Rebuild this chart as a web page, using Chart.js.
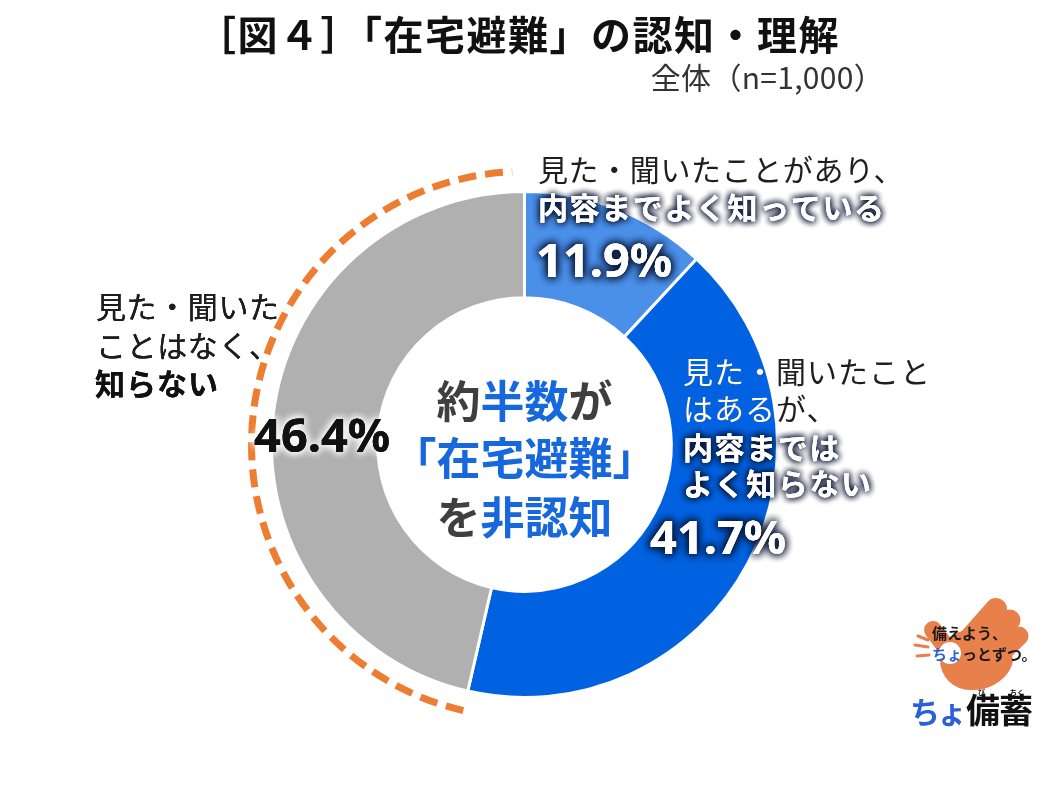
<!DOCTYPE html>
<html><head><meta charset="utf-8">
<script src="https://cdn.jsdelivr.net/npm/chart.js@4.4.0/dist/chart.umd.min.js"></script>
<style>html,body{margin:0;padding:0;background:#fff;} #wrap{width:1049px;height:796px;position:relative;}</style>
</head><body><div id="wrap"><canvas id="c"></canvas></div>
<script>
const categories = ['見た・聞いたことがあり、内容までよく知っている', '見た・聞いたことはあるが、内容まではよく知らない', '見た・聞いたことはなく、知らない'];
const values = [11.9, 41.7, 46.4];
const colors = ['#4A8FE8', '#0062E0', '#B0B0B0'];
const titleText = '［図４］「在宅避難」の認知・理解';
const subtitleText = '全体（n=1,000）';
const labelNormal = [['見た・聞いたことがあり、'], ['見た・聞いたこと', 'はあるが、'], ['見た・聞いた', 'ことはなく、']];
const labelBold = [['内容までよく知っている'], ['内容までは', 'よく知らない'], ['知らない']];
const centerLines = [
  [['約', 'dark'], ['半数', 'blue'], ['が', 'dark']],
  [['「在宅避難」', 'blue']],
  [['を', 'dark'], ['非認知', 'blue']]
];
const logoLine1 = '備えよう、';
const logoLine2a = 'ちょ';
const logoLine2b = 'っとずつ。';
const logoName1 = 'ちょ';
const logoName2 = '備蓄';

const JP = '"Noto Sans CJK JP", "Noto Sans", sans-serif';
const NUM = '"Noto Sans", "Noto Sans CJK JP", sans-serif';
const ORANGE = '#ED7D31';
const CBLUE = '#1768DC';
const CDARK = '#3F3F3F';

function txt(ctx, s, x, y, font, fill, glow, blur, passes, ls) {
  ctx.save();
  ctx.font = font;
  ctx.letterSpacing = (ls || 0) + 'px';
  ctx.fillStyle = fill;
  if (glow) {
    ctx.shadowColor = glow; ctx.shadowBlur = blur;
    for (let i = 0; i < passes; i++) ctx.fillText(s, x, y);
    ctx.shadowColor = 'transparent';
  }
  ctx.fillText(s, x, y);
  ctx.restore();
}

const overlay = {
  id: 'overlay',
  beforeDatasetsDraw(chart) {
    const ctx = chart.ctx;
    const gray = chart.getDatasetMeta(0).data[2];
    ctx.save();
    ctx.strokeStyle = ORANGE;
    ctx.lineWidth = 7;
    ctx.setLineDash([18, 9]);
    ctx.beginPath();
    ctx.arc(gray.x, gray.y, gray.outerRadius + 20, gray.startAngle, gray.endAngle - 0.045);
    ctx.stroke();
    ctx.restore();
  },
  afterDatasetsDraw(chart) {
    const ctx = chart.ctx;
    const meta = chart.getDatasetMeta(0);
    const cx = meta.data[0].x, cy = meta.data[0].y;
    ctx.save();
    ctx.textBaseline = 'middle';
    ctx.textAlign = 'left';
    const pct = values.map(v => v.toFixed(1) + '%');
    const fN = '30px ' + JP, fB = 'bold 30px ' + JP, fP = 'bold 47px ' + NUM;
    const darkGlow = 'rgba(10,20,50,0.95)';

    // label 1
    txt(ctx, labelNormal[0][0], 538, 170, fN, '#1E1E1E', null, 0, 0, 0.6);
    txt(ctx, labelBold[0][0], 538, 208, fB, '#FFFFFF', darkGlow, 7, 3, 1.6);
    txt(ctx, pct[0], 536, 264, fP, '#FFFFFF', darkGlow, 8, 3, 0);

    // label 2 with knockout
    const seg = meta.data[1];
    const l2 = [[labelNormal[1][0], 683, 372], [labelNormal[1][1], 683, 409]];
    l2.forEach(([s, x, y]) => txt(ctx, s, x, y, fN, '#1E1E1E', null, 0, 0, 1));
    ctx.save();
    ctx.beginPath();
    ctx.arc(seg.x, seg.y, seg.outerRadius, seg.startAngle, seg.endAngle);
    ctx.arc(seg.x, seg.y, seg.innerRadius, seg.endAngle, seg.startAngle, true);
    ctx.closePath();
    ctx.clip();
    l2.forEach(([s, x, y]) => txt(ctx, s, x, y, fN, '#FFFFFF', null, 0, 0, 1));
    ctx.restore();
    txt(ctx, labelBold[1][0], 683, 448, fB, '#FFFFFF', darkGlow, 7, 3, 1.6);
    txt(ctx, labelBold[1][1], 683, 484, fB, '#FFFFFF', darkGlow, 7, 3, 1.6);
    txt(ctx, pct[1], 650, 541, fP, '#FFFFFF', darkGlow, 8, 3, 0);

    // label 3
    txt(ctx, labelNormal[2][0], 96, 307, fN, '#1E1E1E', '#FFFFFF', 4, 2, 0.6);
    txt(ctx, labelNormal[2][1], 96, 346, fN, '#1E1E1E', '#FFFFFF', 4, 2, 0.6);
    txt(ctx, labelBold[2][0], 95, 384, fB, '#111111', '#FFFFFF', 4, 2, 1);
    txt(ctx, pct[2], 254, 439, fP, '#111111', 'rgba(255,255,255,1)', 9, 3, 0);

    // center text
    const fC = 'bold 44px ' + JP;
    const ys = [401, 458, 517];
    centerLines.forEach((line, i) => {
      ctx.font = fC;
      const w = line.reduce((a, [s]) => a + ctx.measureText(s).width, 0);
      let x = cx - w / 2;
      line.forEach(([s, c]) => {
        txt(ctx, s, x, ys[i], fC, c === 'blue' ? CBLUE : CDARK, null, 0, 0, 0);
        ctx.font = fC;
        x += ctx.measureText(s).width;
      });
    });
    ctx.restore();
  },
  afterDraw(chart) {
    const ctx = chart.ctx;
    ctx.save();
    ctx.textBaseline = 'middle';
    // title
    ctx.textAlign = 'center';
    txt(ctx, titleText, 518, 35, 'bold 40px ' + JP, '#111111', null, 0, 0, 1.5);
    ctx.textAlign = 'right';
    txt(ctx, subtitleText, 884, 78, '30px ' + JP, '#333333', null, 0, 0, 0.3);

    // logo hand
    const HC = '#E8804C';
    ctx.fillStyle = HC;
    function bar(x1, y1, x2, y2, w) {
      ctx.save();
      ctx.lineCap = 'round';
      ctx.strokeStyle = HC;
      ctx.lineWidth = w;
      ctx.beginPath(); ctx.moveTo(x1, y1); ctx.lineTo(x2, y2); ctx.stroke();
      ctx.restore();
    }
    bar(958, 652, 996, 609, 22);
    bar(970, 662, 1010, 620, 21);
    bar(984, 670, 1019, 636, 19);
    ctx.beginPath(); ctx.arc(970, 660, 30, 0, Math.PI * 2); ctx.fill();
    ctx.beginPath(); ctx.ellipse(985, 668, 30, 19, -0.5, 0, Math.PI * 2); ctx.fill();
    bar(933, 630, 950, 652, 18);
    ctx.fillStyle = '#FFFFFF';
    ctx.beginPath(); ctx.arc(950, 653, 11, 0, Math.PI * 2); ctx.fill();
    // rays
    bar(915, 645, 928, 647, 3);
    bar(917, 656, 929, 655, 3);
    bar(918, 636, 928, 640, 3);
    ctx.textAlign = 'left';
    txt(ctx, logoLine1, 932, 633, 'bold 15px ' + JP, '#1A1A1A', null, 0, 0, 0);
    ctx.font = 'bold 15px ' + JP;
    txt(ctx, logoLine2a, 932, 654, 'bold 15px ' + JP, '#2A62D6', null, 0, 0, 0);
    const w2 = ctx.measureText(logoLine2a).width;
    txt(ctx, logoLine2b, 932 + w2, 654, 'bold 15px ' + JP, '#1A1A1A', null, 0, 0, 0);
    txt(ctx, logoName1, 910, 712, 'bold 30px ' + JP, '#2A62D6', null, 0, 0, -3);
    txt(ctx, logoName2, 966, 710, 'bold 34px ' + JP, '#111111', null, 0, 0, -1);
    txt(ctx, 'び', 978, 692, 'bold 7px ' + JP, '#111111', null, 0, 0, 0);
    txt(ctx, 'ちく', 1010, 692, 'bold 7px ' + JP, '#111111', null, 0, 0, 0);
    ctx.restore();
  }
};

new Chart(document.getElementById('c'), {
  type: 'doughnut',
  data: {
    labels: categories,
    datasets: [{
      data: values,
      backgroundColor: colors,
      borderColor: '#FFFFFF',
      borderWidth: 3,
      hoverOffset: 0
    }]
  },
  options: {
    responsive: true,
    maintainAspectRatio: false,
    animation: false,
    cutout: '58%',
    layout: { padding: { left: 270, right: 270, top: 190, bottom: 97 } },
    plugins: { legend: { display: false }, tooltip: { enabled: false } }
  },
  plugins: [overlay]
});
</script>
</body></html>
